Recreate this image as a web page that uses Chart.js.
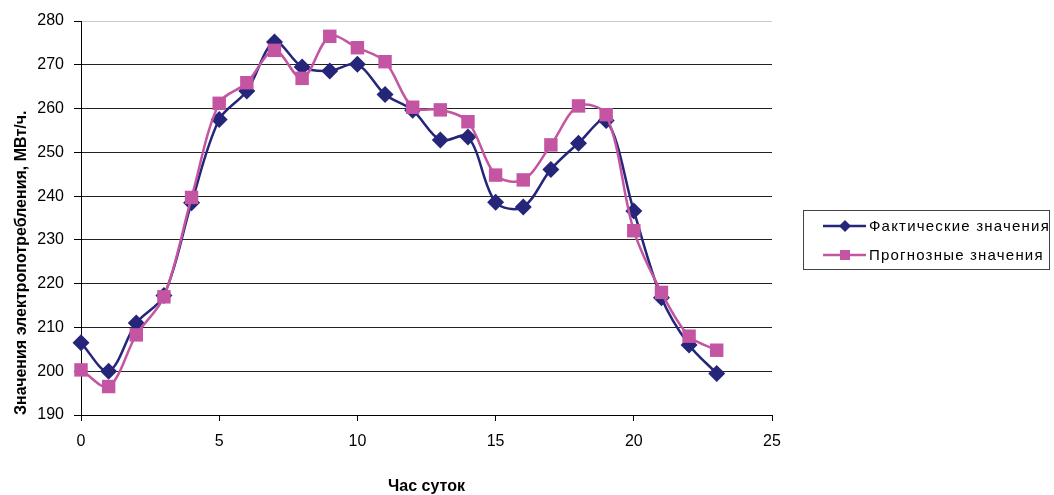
<!DOCTYPE html>
<html>
<head>
<meta charset="utf-8">
<script src="https://cdn.jsdelivr.net/npm/chart.js"></script>
<style>
  body { margin: 0; background: #fff; }
</style>
</head>
<body>
<canvas id="grafico" width="1054" height="495"></canvas>
<script>
var horas = [0, 1, 2, 3, 4, 5, 6, 7, 8, 9, 10, 11, 12, 13, 14, 15, 16, 17, 18, 19, 20, 21, 22, 23]
var fakticheskie = [206.5, 200, 211, 217.3, 238.5, 257.5, 264, 275.2, 269.5, 268.6, 270.1, 263.2, 259.6, 252.8, 253.5, 238.6, 237.5, 246.1, 252.1, 257.3, 236.6, 216.8, 206, 199.5]
var prognoznye = [200.3, 196.5, 208.3, 217, 239.7, 261.2, 265.9, 273.3, 266.9, 276.5, 273.9, 270.7, 260.3, 259.7, 257, 244.8, 243.7, 251.7, 260.6, 258.6, 232.1, 218, 208, 204.8]
var nomesSeries = ['Фактические значения', 'Прогнозные значения']
var tituloY = 'Значения электропотребления, МВт/ч.'
var tituloX = 'Час суток'

var azul = '#25257a'
var rosa = '#c455a2'

Chart.defaults.font.family = '"Liberation Sans", Arial, sans-serif'
Chart.defaults.color = '#000'

// legenda desenhada a mao: linha + marcador, com moldura
var legendaExcel = {
    id: 'legendaExcel',
    afterDraw: function (chart) {
        var ctx = chart.ctx
        ctx.save()
        ctx.strokeStyle = '#444'
        ctx.lineWidth = 1
        ctx.strokeRect(803.5, 210.5, 246, 59)

        chart.data.datasets.forEach(function (ds, i) {
            var y = 226 + i * 29
            ctx.strokeStyle = ds.borderColor
            ctx.lineWidth = 2.5
            ctx.beginPath()
            ctx.moveTo(823, y)
            ctx.lineTo(866, y)
            ctx.stroke()

            ctx.fillStyle = ds.borderColor
            ctx.beginPath()
            if (ds.pointStyle === 'rectRot') {
                ctx.moveTo(845, y - 6)
                ctx.lineTo(851, y)
                ctx.lineTo(845, y + 6)
                ctx.lineTo(839, y)
            } else {
                ctx.rect(840, y - 5, 10, 10)
            }
            ctx.fill()

            ctx.fillStyle = '#000'
            ctx.font = '15px "Liberation Sans", Arial, sans-serif'
            ctx.letterSpacing = '1.2px'
            ctx.textBaseline = 'middle'
            ctx.textAlign = 'left'
            ctx.fillText(ds.label, 869, y + 1)
        })
        ctx.restore()
    }
}

var ctx = document.getElementById('grafico').getContext('2d')
var grafico = new Chart(ctx, {
    type: 'line',
    data: {
        labels: horas,
        datasets: [{
            label: nomesSeries[0],
            data: fakticheskie,
            borderColor: azul,
            backgroundColor: azul,
            borderWidth: 2.5,
            pointStyle: 'rectRot',
            pointRadius: 8.5,
            pointBorderWidth: 0,
            tension: 0.33,
            clip: false,
            order: 1
        }, {
            label: nomesSeries[1],
            data: prognoznye,
            borderColor: rosa,
            backgroundColor: rosa,
            borderWidth: 2.5,
            pointStyle: 'rect',
            pointRadius: 9.5,
            pointBorderWidth: 0,
            tension: 0.33,
            clip: false,
            order: 0
        }]
    },
    options: {
        responsive: false,
        animation: false,
        layout: {
            padding: { top: 21, right: 282, left: 0, bottom: 0 }
        },
        plugins: {
            legend: { display: false },
            tooltip: { enabled: false }
        },
        scales: {
            x: {
                type: 'linear',
                min: 0,
                max: 25,
                afterFit: function (scale) { scale.height = 80 },
                ticks: {
                    stepSize: 5,
                    padding: 11,
                    font: { size: 16 },
                    color: '#000'
                },
                grid: {
                    drawOnChartArea: false,
                    tickLength: 6,
                    tickColor: '#000'
                },
                border: { color: '#000', width: 1 },
                title: {
                    display: true,
                    text: tituloX,
                    font: { size: 16, weight: 'bold', lineHeight: 1 },
                    padding: { top: 0, bottom: 0 },
                    color: '#000'
                }
            },
            y: {
                min: 190,
                max: 280,
                afterFit: function (scale) { scale.width = 81 },
                ticks: {
                    stepSize: 10,
                    padding: 10,
                    font: { size: 16 },
                    color: '#000'
                },
                grid: {
                    color: function (c) { return c.tick && c.tick.value === 280 ? '#cccccc' : '#222' },
                    tickLength: 7,
                    tickColor: '#000'
                },
                border: { color: '#000', width: 1 },
                title: {
                    display: true,
                    text: tituloY,
                    align: 'start',
                    font: { size: 16, weight: 'bold', lineHeight: 1 },
                    padding: { top: 14, bottom: 0 },
                    color: '#000'
                }
            }
        }
    },
    plugins: [legendaExcel]
})
</script>
</body>
</html>
